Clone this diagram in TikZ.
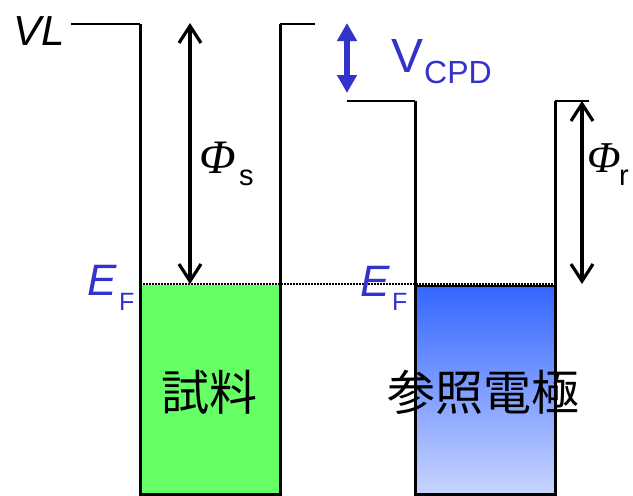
\documentclass[tikz,border=0pt]{standalone}
\usepackage{fontspec}
\setmainfont{Liberation Sans}
\newfontfamily\phifont{Liberation Serif}
\newfontfamily\cjk{Noto Sans CJK JP}
\usetikzlibrary{arrows.meta}
\definecolor{efblue}{HTML}{3333CC}
\definecolor{samplegreen}{HTML}{66FF66}
\definecolor{reftop}{HTML}{3366FF}
\definecolor{refbot}{HTML}{C8D4FF}
\begin{document}
\begin{tikzpicture}[x=1pt,y=-1pt,
  wall/.style={line width=3pt},
  levelline/.style={line width=2pt},
  fermi/.style={line width=1.3pt,dash pattern=on 1.5pt off 1.5pt},
  phiarrow/.style={line width=3.2pt,{Straight Barb[length=17pt,width=22pt]}-{Straight Barb[length=17pt,width=22pt]}},
  cpdarrow/.style={line width=6pt,efblue,{Triangle[length=18pt,width=19pt]}-{Triangle[length=18pt,width=19pt]}},
  lbl/.style={anchor=base west,inner sep=0pt},
  philbl/.style={lbl,font=\phifont\itshape\fontsize{48}{48}\selectfont},
  sublbl/.style={lbl,font=\fontsize{29}{29}\selectfont},
  cjklbl/.style={inner sep=0pt,font=\cjk\fontsize{48}{48}\selectfont}
]
\useasboundingbox (0,0) rectangle (633,496);

% fills
\fill[samplegreen] (140,285) rectangle (280,494);
\shade[top color=reftop,bottom color=refbot] (415,285) rectangle (555,494);

% coordinates
\coordinate (vlA) at (71,24);
\coordinate (lwTL) at (140,24);
\coordinate (lwBL) at (140,494);
\coordinate (lwBR) at (280,494);
\coordinate (lwTR) at (280,24);
\coordinate (lwT2) at (315,24);
\coordinate (rA) at (347,101);
\coordinate (rTL) at (415,101);
\coordinate (rBL) at (415,494);
\coordinate (rBR) at (555,494);
\coordinate (rTR) at (555,101);
\coordinate (rB) at (589,101);
\coordinate (efA) at (140,284);
\coordinate (efB) at (555,284);
\coordinate (rbTL) at (415,286);
\coordinate (rbTR) at (555,286);
\coordinate (phisTop) at (190,23);
\coordinate (phisBot) at (190,284);
\coordinate (phirTop) at (582,101);
\coordinate (phirBot) at (582,284);
\coordinate (cpdTop) at (347,23);
\coordinate (cpdBot) at (347,93);

% Fermi level
\draw[fermi] (efA) -- (efB);
\draw[line width=1.6pt] (rbTL) -- (rbTR);

% wells
\draw[levelline] (vlA) -- (lwTL);
\draw[wall] (lwTL) -- (lwBL) -- (lwBR) -- (lwTR);
\draw[levelline] (lwTR) -- (lwT2);
\draw[levelline] (rA) -- (rTL);
\draw[wall] (rTL) -- (rBL) -- (rBR) -- (rTR);
\draw[levelline] (rTR) -- (rB);

% arrows
\draw[phiarrow] (phisTop) -- (phisBot);
\draw[phiarrow] (phirTop) -- (phirBot);
\draw[cpdarrow] (cpdTop) -- (cpdBot);

% labels
\node[lbl,font=\itshape\fontsize{42}{42}\selectfont] (vl) at (13,45) {VL};
\node[philbl] (phis) at (199,173) {Φ};
\node[sublbl] (phiss) at (239,185) {s};
\node[philbl,font=\phifont\itshape\fontsize{44}{44}\selectfont] (phir) at (587,172) {Φ};
\node[sublbl] (phirs) at (619,185) {r};
\node[lbl,text=efblue,font=\itshape\fontsize{44}{44}\selectfont] (efl) at (87,295) {E};
\node[lbl,text=efblue,font=\fontsize{25}{25}\selectfont] (efls) at (119,310) {F};
\node[lbl,text=efblue,font=\itshape\fontsize{44}{44}\selectfont] (efr) at (360,296) {E};
\node[lbl,text=efblue,font=\fontsize{25}{25}\selectfont] (efrs) at (392,310) {F};
\node[lbl,text=efblue,font=\fontsize{48}{48}\selectfont] (vcpd) at (391,72) {V};
\node[lbl,text=efblue,font=\fontsize{32}{32}\selectfont] (vcpds) at (424,83) {CPD};
\node[cjklbl] (sample) at (209.5,392) {試料};
\node[cjklbl] (refel) at (483,392) {参照電極};
\end{tikzpicture}
\end{document}
